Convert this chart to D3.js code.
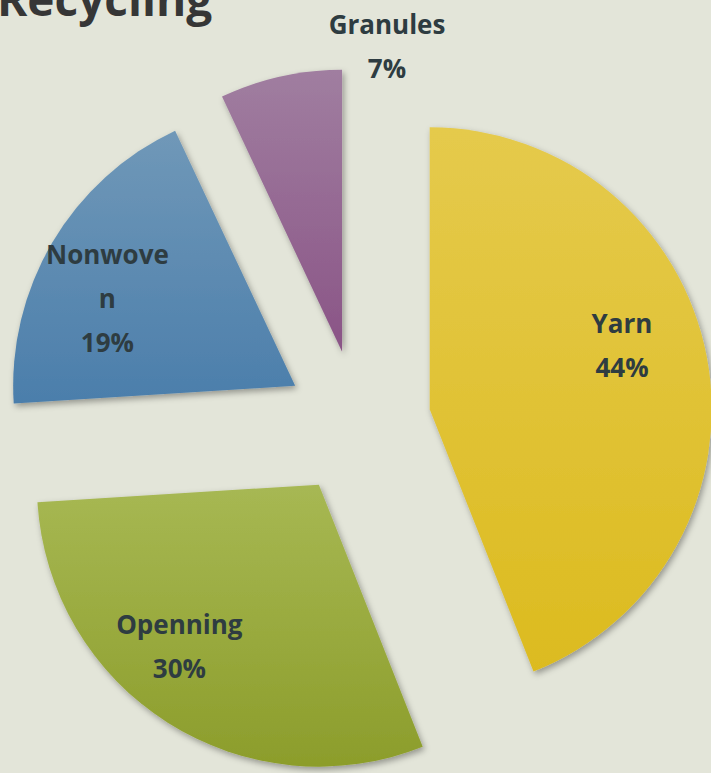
<!DOCTYPE html>
<html>
<head>
<meta charset="utf-8">
<script src="https://cdn.jsdelivr.net/npm/d3@7"></script>
<style>
  html, body { margin: 0; padding: 0; background: #e3e5d9; overflow: hidden; }
  svg { display: block; }
</style>
</head>
<body>
<div class="container"></div>
<script>
// data
const categories = ['Yarn', 'Openning', 'Nonwoven', 'Granules'];
const values = [44, 30, 19, 7];
const labelLines = [['Yarn'], ['Openning'], ['Nonwove', 'n'], ['Granules']];
const title = 'Recycling';

const renderPie = () => {
  const width = 711;
  const height = 773;
  const cx = 358;
  const cy = 423;
  const radius = 282;
  const explode = 73;
  const labelRadius = 210;
  const lineGap = 44;

  // slice colours, top -> bottom of each gradient
  const colors = [
    ['#e5ca4c', '#dcbb1f'],
    ['#a7b853', '#8c9d2b'],
    ['#7098b8', '#4b7eab'],
    ['#a07ea0', '#8a5486']
  ];
  // small nudges for label placement
  const labelNudge = [[-14, -24], [-27, -15], [-7, 20], [113, 0]];
  const labelOutside = [false, false, false, true];

  const svg = d3.select('.container').append('svg').attr('width', width).attr('height', height);
  const defs = svg.append('defs');

  const shadow = defs.append('filter').attr('id', 'shadow')
    .attr('x', '-10%').attr('y', '-10%').attr('width', '130%').attr('height', '130%');
  shadow.append('feDropShadow')
    .attr('dx', 2).attr('dy', 3).attr('stdDeviation', 3)
    .attr('flood-color', '#000').attr('flood-opacity', 0.35);

  colors.forEach((c, i) => {
    const g = defs.append('linearGradient').attr('id', `grad${i}`)
      .attr('x1', 0).attr('y1', 0).attr('x2', 0).attr('y2', 1);
    g.append('stop').attr('offset', '0%').attr('stop-color', c[0]);
    g.append('stop').attr('offset', '100%').attr('stop-color', c[1]);
  });

  const pie = d3.pie().sort(null).value(d => d).startAngle(0).endAngle(2 * Math.PI);
  const arcs = pie(values);

  const arc = d3.arc().innerRadius(0).outerRadius(radius);
  const labelArc = d3.arc().innerRadius(labelRadius).outerRadius(labelRadius);
  const outerLabelArc = d3.arc().innerRadius(radius + 30).outerRadius(radius + 30);

  const offsetOf = d => {
    const mid = (d.startAngle + d.endAngle) / 2;
    return [Math.sin(mid) * explode, -Math.cos(mid) * explode];
  };

  const chart = svg.append('g').attr('transform', `translate(${cx},${cy})`);

  //slices
  chart.selectAll('path.slice')
    .data(arcs)
    .enter()
    .append('path')
    .attr('class', 'slice')
    .attr('d', arc)
    .attr('fill', (d, i) => `url(#grad${i})`)
    .attr('filter', 'url(#shadow)')
    .attr('transform', d => {
      const o = offsetOf(d);
      return `translate(${o[0]},${o[1]})`;
    });

  //labels
  const labels = chart.selectAll('text.label')
    .data(arcs)
    .enter()
    .append('text')
    .attr('class', 'label')
    .attr('text-anchor', 'middle')
    .attr('font-family', '"Open Sans", sans-serif')
    .attr('font-weight', 'bold')
    .attr('font-size', 26)
    .attr('fill', '#2e3c41')
    .attr('transform', (d, i) => {
      const o = offsetOf(d);
      const c = labelOutside[i] ? outerLabelArc.centroid(d) : labelArc.centroid(d);
      return `translate(${o[0] + c[0] + labelNudge[i][0]},${o[1] + c[1] + labelNudge[i][1]})`;
    });

  labels.each(function(d, i) {
    const lines = labelLines[i].concat([`${values[i]}%`]);
    const top = -((lines.length - 1) * lineGap) / 2;
    const t = d3.select(this);
    lines.forEach((line, j) => {
      t.append('tspan')
        .attr('x', 0)
        .attr('y', top + j * lineGap)
        .attr('dy', '0.35em')
        .text(line);
    });
  });

  //title, cut off at the top edge as in the source slide
  svg.append('text')
    .text(title)
    .attr('x', -3)
    .attr('y', 16)
    .attr('font-family', '"Open Sans", sans-serif')
    .attr('font-weight', 'bold')
    .attr('font-size', 46)
    .attr('fill', '#363636');
};

renderPie();
</script>
</body>
</html>
